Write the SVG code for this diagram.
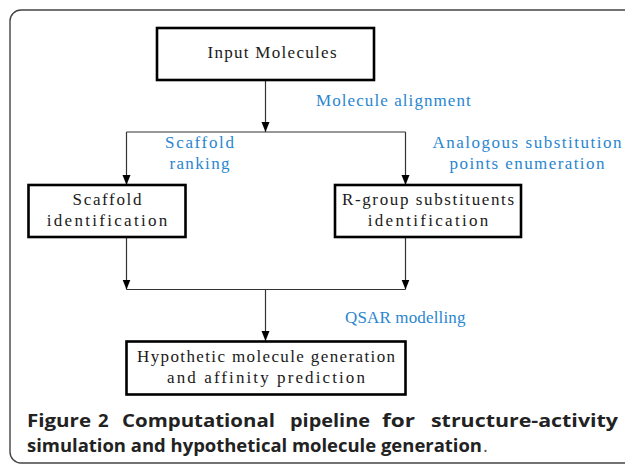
<svg xmlns="http://www.w3.org/2000/svg" width="625" height="464" viewBox="0 0 625 464">
<style>
.box{fill:#fff;stroke:#000;stroke-width:2.6}
.t{font-family:"Liberation Serif",serif;font-size:17px;fill:#1a1a1a;text-anchor:middle}
.b{font-family:"Liberation Serif",serif;font-size:17px;fill:#2a86d0}
.c{stroke:#333;stroke-width:1.2;fill:none}
.cap{font-family:"Open Sans","DejaVu Sans",sans-serif;font-weight:700;font-size:18.5px;fill:#222}
</style>
<defs>
<marker id="a" markerUnits="userSpaceOnUse" markerWidth="12" markerHeight="10" refX="10" refY="4" orient="auto">
<path d="M0,0 L10,4 L0,8 Z" fill="#000"/>
</marker>
</defs>
<rect x="10" y="10" width="660" height="453" rx="11" fill="#fff" stroke="#444" stroke-width="1.4"/>
<g id="connectors">
<line class="c" x1="265.5" y1="80" x2="265.5" y2="132" marker-end="url(#a)"/>
<line class="c" x1="126.5" y1="132" x2="405.5" y2="132"/>
<line class="c" x1="126.5" y1="132" x2="126.5" y2="185" marker-end="url(#a)"/>
<line class="c" x1="405.5" y1="132" x2="405.5" y2="185" marker-end="url(#a)"/>
<line class="c" x1="126.5" y1="237" x2="126.5" y2="289.5" marker-end="url(#a)"/>
<line class="c" x1="405.5" y1="237" x2="405.5" y2="289.5" marker-end="url(#a)"/>
<line class="c" x1="126.5" y1="289.5" x2="405.5" y2="289.5"/>
<line class="c" x1="265.5" y1="289.5" x2="265.5" y2="341" marker-end="url(#a)"/>
</g>
<g id="input">
<rect class="box" x="157" y="28" width="217" height="52"/>
<text class="t" x="272" y="58" textLength="129" lengthAdjust="spacing">Input Molecules</text>
</g>
<g id="scaffold">
<rect class="box" x="28.5" y="185" width="157" height="52"/>
<text class="t" x="107" y="205" textLength="68.8" lengthAdjust="spacing">Scaffold</text>
<text class="t" x="107" y="226" textLength="120.4" lengthAdjust="spacing">identification</text>
</g>
<g id="rgroup">
<rect class="box" x="335" y="185" width="186" height="52"/>
<text class="t" x="428" y="205" textLength="172" lengthAdjust="spacing">R-group substituents</text>
<text class="t" x="428" y="226" textLength="120.4" lengthAdjust="spacing">identification</text>
</g>
<g id="hypothetic">
<rect class="box" x="126.5" y="341.5" width="279" height="53"/>
<text class="t" x="266" y="362" textLength="258" lengthAdjust="spacing">Hypothetic molecule generation</text>
<text class="t" x="266" y="383" textLength="197.8" lengthAdjust="spacing">and affinity prediction</text>
</g>
<g id="labels">
<text class="b" x="316" y="106" textLength="154.8" lengthAdjust="spacing">Molecule alignment</text>
<text class="b" x="199.5" y="148" text-anchor="middle" textLength="68.8" lengthAdjust="spacing">Scaffold</text>
<text class="b" x="199.5" y="169" text-anchor="middle" textLength="60.2" lengthAdjust="spacing">ranking</text>
<text class="b" x="527" y="148" text-anchor="middle" textLength="189.2" lengthAdjust="spacing">Analogous substitution</text>
<text class="b" x="527" y="169" text-anchor="middle" textLength="154.8" lengthAdjust="spacing">points enumeration</text>
<text class="b" x="345" y="323" textLength="120.4" lengthAdjust="spacing">QSAR modelling</text>
</g>
<g id="caption">
<text class="cap" x="27" y="427" textLength="64" lengthAdjust="spacingAndGlyphs">Figure</text>
<text class="cap" x="98" y="427">2</text>
<text class="cap" x="122" y="427" textLength="153" lengthAdjust="spacingAndGlyphs">Computational</text>
<text class="cap" x="290" y="427" textLength="80" lengthAdjust="spacingAndGlyphs">pipeline</text>
<text class="cap" x="382" y="427" textLength="33" lengthAdjust="spacingAndGlyphs">for</text>
<text class="cap" x="431" y="427" textLength="187" lengthAdjust="spacingAndGlyphs">structure-activity</text>
<text class="cap" x="27" y="452" textLength="455" lengthAdjust="spacingAndGlyphs">simulation and hypothetical molecule generation</text>
<text x="483" y="452" font-family="Open Sans, sans-serif" font-size="18.5px" fill="#555">.</text>
</g>
</svg>
